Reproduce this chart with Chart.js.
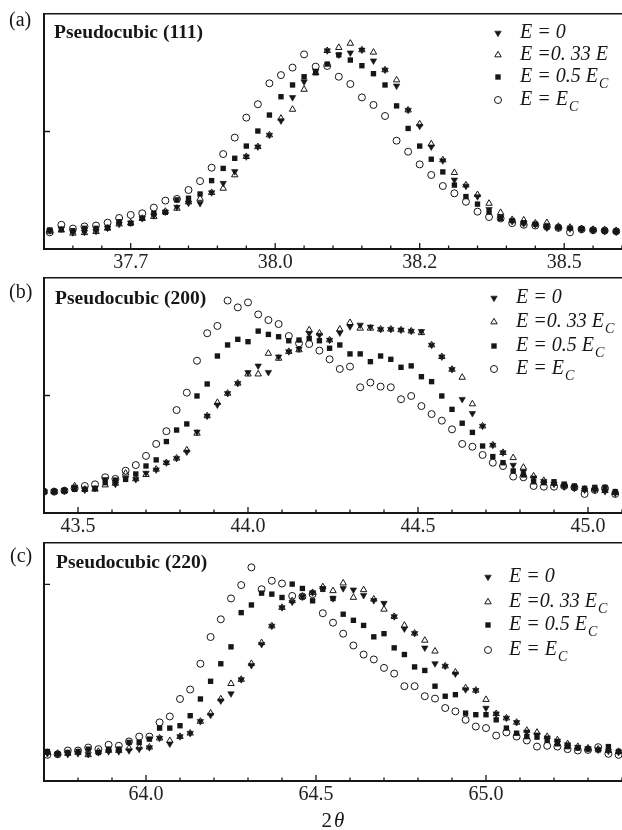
<!DOCTYPE html>
<html>
<head>
<meta charset="utf-8">
<script src="https://cdn.jsdelivr.net/npm/chart.js@4.4.1/dist/chart.umd.min.js"></script>
<style>
html, body { margin:0; padding:0; background:#fff; }
body { width:622px; height:830px; position:relative; overflow:hidden; }
canvas { position:absolute; left:0; }
</style>
</head>
<body>
<canvas id="chartA" width="622" height="278" style="top:0px"></canvas>
<canvas id="chartB" width="622" height="278" style="top:264px"></canvas>
<canvas id="chartC" width="622" height="301" style="top:529px"></canvas>
<script>
// 2theta sampling positions of each scan
const twoThetaA = [37.61,37.63,37.65,37.67,37.69,37.71,37.73,37.75,37.77,37.79,37.81,37.83,37.85,37.87,37.89,37.91,37.93,37.95,37.97,37.99,
    38.01,38.03,38.05,38.07,38.09,38.11,38.13,38.15,38.17,38.19,38.21,38.23,38.25,38.27,38.29,38.31,38.33,38.35,38.37,38.39,
    38.41,38.43,38.45,38.47,38.49,38.51,38.53,38.55,38.57,38.59];
const twoThetaB = [43.40,43.43,43.46,43.49,43.52,43.55,43.58,43.61,43.64,43.67,43.70,43.73,43.76,43.79,43.82,43.85,43.88,43.91,43.94,43.97,
    44.00,44.03,44.06,44.09,44.12,44.15,44.18,44.21,44.24,44.27,44.30,44.33,44.36,44.39,44.42,44.45,44.48,44.51,44.54,44.57,
    44.60,44.63,44.66,44.69,44.72,44.75,44.78,44.81,44.84,44.87,44.90,44.93,44.96,44.99,45.02,45.05,45.08];
const twoThetaC = [63.71,63.74,63.77,63.80,63.83,63.86,63.89,63.92,63.95,63.98,64.01,64.04,64.07,64.10,64.13,64.16,64.19,64.22,64.25,64.28,
    64.31,64.34,64.37,64.40,64.43,64.46,64.49,64.52,64.55,64.58,64.61,64.64,64.67,64.70,64.73,64.76,64.79,64.82,64.85,64.88,
    64.91,64.94,64.97,65.00,65.03,65.06,65.09,65.12,65.15,65.18,65.21,65.24,65.27,65.30,65.33,65.36,65.39];

// (a) pseudocubic (111), intensity a.u.
const e0A   = [7.8,8.6,7.0,7.2,7.6,8.9,10.6,11.1,13.0,14.2,15.8,17.8,19.6,19.4,24.0,28.0,33.0,39.3,43.5,48.5,
    54.6,64.5,71.2,75.8,84.4,82.6,83.5,84.7,80.1,76.2,69.4,59.1,52.3,43.5,37.6,29.4,26.8,22.3,16.9,13.5,
    11.8,10.8,10.4,9.0,9.0,8.6,8.3,7.9,7.5,7.3];
const e033A = [7.5,8.0,6.7,6.9,7.4,8.8,10.6,11.1,13.0,13.8,16.0,17.3,20.0,21.5,24.0,25.8,31.5,39.3,43.5,48.5,
    55.6,59.4,67.9,75.0,84.4,85.7,87.5,84.7,83.7,76.2,71.9,59.1,53.2,44.7,37.9,32.5,27.2,23.1,19.4,15.5,
    12.5,12.3,11.0,11.2,9.6,9.2,8.6,8.3,8.2,7.8];
const e05A  = [8.1,8.4,7.8,8.8,8.8,9.2,11.6,10.9,13.1,15.2,15.6,20.9,21.6,23.4,29.1,34.3,38.6,43.8,50.2,57.0,
    64.8,69.8,73.3,75.0,78.7,82.6,80.4,78.0,74.6,69.8,60.9,51.3,43.8,38.2,32.8,27.2,22.3,19.1,15.7,13.1,
    12.1,11.2,10.6,9.5,9.3,8.9,8.6,8.1,7.9,7.6];
const eCA   = [7.1,10.3,8.7,9.6,10.0,11.2,13.2,14.5,15.2,17.6,20.6,21.3,25.1,28.9,34.6,40.4,47.4,55.9,61.6,70.5,
    74.0,77.2,82.8,77.6,77.9,73.3,70.2,64.5,61.3,56.6,46.1,41.4,36.0,31.5,26.8,23.7,20.1,15.9,13.6,13.0,
    11.0,10.3,10.0,9.5,9.0,7.1,8.4,8.0,7.8,7.5];

// (b) pseudocubic (200)
const e0B   = [9.1,9.1,9.5,11.0,9.8,10.5,14.3,12.3,14.8,14.3,17.0,18.4,21.4,23.3,26.0,34.5,41.3,46.0,50.9,55.2,
    59.8,62.6,59.9,66.5,68.7,69.8,76.5,75.7,73.6,76.7,79.3,80.0,79.2,78.2,78.2,77.9,77.4,77.3,71.5,66.5,
    61.1,48.4,42.4,37.0,28.9,25.7,20.4,17.6,15.0,13.5,12.3,11.2,10.6,9.8,9.8,9.2,8.4];
const e033B = [9.1,9.1,9.5,11.5,10.1,10.1,11.9,12.6,16.9,14.5,16.3,18.6,21.4,23.3,26.8,33.9,41.3,47.0,50.9,55.2,
    59.1,59.1,67.9,65.8,68.7,69.4,77.9,76.5,73.6,78.2,81.0,78.6,78.6,78.2,78.2,77.9,77.4,76.7,71.5,66.5,
    61.1,57.7,46.4,37.0,28.9,25.7,23.5,19.4,15.7,13.8,12.6,11.5,10.9,10.1,10.1,9.5,8.7];
const e05B  = [9.1,9.1,9.5,10.1,10.1,10.5,12.9,14.0,14.3,16.6,20.0,22.6,30.4,35.3,37.9,49.8,54.9,66.8,71.5,73.9,
    72.9,77.4,76.0,75.0,73.3,73.6,74.3,73.3,70.1,71.5,67.7,67.7,64.4,66.8,65.4,62.0,62.6,58.0,55.9,49.8,
    44.1,38.2,34.3,28.5,24.0,21.4,17.9,16.2,13.3,12.9,13.3,12.3,11.5,10.5,10.9,10.9,9.1];
const eCB   = [9.1,9.1,9.5,10.5,11.5,12.2,15.2,14.5,18.0,20.4,24.3,29.4,34.8,43.8,51.2,64.8,76.5,79.6,90.4,87.5,
    89.6,84.5,82.1,80.4,75.3,72.2,71.9,69.1,65.4,61.3,62.3,53.5,55.5,53.8,53.5,48.4,49.8,45.5,42.1,39.3,
    35.6,29.4,28.2,24.7,21.4,20.0,15.5,15.2,11.5,11.2,11.2,11.5,10.9,8.1,9.8,10.5,8.1];

// (c) pseudocubic (220)
const e0C   = [14.0,13.6,13.6,14.0,13.6,14.5,15.0,15.0,15.5,16.2,17.0,21.8,18.9,22.6,24.3,30.3,33.5,40.8,44.4,51.6,
    58.8,69.5,78.8,88.2,91.0,93.8,95.8,97.9,92.8,97.9,97.2,94.4,91.8,90.4,83.6,77.4,75.1,67.7,59.7,58.4,
    54.5,46.5,46.1,37.1,34.2,32.0,29.8,25.0,23.5,22.0,20.4,18.5,17.2,16.5,15.8,15.2,14.6];
const e033C = [14.5,14.0,14.0,14.5,13.3,15.0,15.5,15.5,16.7,17.2,17.2,21.8,20.5,22.6,24.3,30.3,34.5,41.7,49.5,51.6,
    59.7,70.3,78.8,88.2,91.6,93.8,95.8,98.7,96.7,100.6,93.3,97.2,92.4,87.3,83.6,79.1,75.1,71.5,66.0,58.4,
    55.3,47.3,46.1,41.4,34.2,32.0,29.8,25.7,24.7,22.6,20.9,18.9,17.5,16.7,16.2,15.5,15.0];
const e05C  = [15.0,13.8,14.5,15.0,16.2,14.5,16.2,16.2,19.6,19.6,21.3,26.9,26.9,28.1,33.2,41.7,50.7,59.6,68.2,85.6,
    89.5,95.5,95.0,93.3,100.1,97.9,91.6,97.5,92.8,84.8,81.7,79.1,73.3,74.9,67.7,64.3,58.0,56.2,48.2,43.1,
    43.9,34.5,33.7,33.7,31.1,26.9,24.3,22.6,22.3,20.6,18.9,17.5,16.7,16.2,15.8,17.5,15.0];
const eCC   = [13.3,13.6,15.5,15.5,17.0,16.2,18.4,17.9,20.1,22.6,22.6,29.8,32.8,41.7,46.5,59.6,73.2,82.2,92.8,99.6,
    108.6,97.5,101.8,100.4,94.1,93.8,95.0,85.3,80.5,74.9,68.9,64.3,61.8,57.5,54.6,48.2,48.2,43.1,41.9,37.1,
    35.4,31.1,27.7,26.9,23.1,24.7,22.6,20.6,17.5,17.9,17.5,16.2,15.5,15.8,17.2,13.8,13.3];

// axis ticks (labels as printed on the original figure)
const ticksA = [37.75, 38.0, 38.25, 38.5];
const tickLabelsA = ['37.7', '38.0', '38.2', '38.5'];
const ticksB = [43.5, 44.0, 44.5, 45.0];
const tickLabelsB = ['43.5', '44.0', '44.5', '45.0'];
const ticksC = [64.0, 64.5, 65.0];
const tickLabelsC = ['64.0', '64.5', '65.0'];

const legendA = ['E = 0', 'E =0. 33 E', 'E = 0.5 E', 'E = E'];
const legendSubA = ['', '', 'C', 'C'];
const legendBC = ['E = 0', 'E =0. 33 E', 'E = 0.5 E', 'E = E'];
const legendSubBC = ['', 'C', 'C', 'C'];

const INK = '#161616';
const SERIF = '"Liberation Serif", "Times New Roman", serif';

function makeOverlay(p) {
    return {
        id: 'overlay',
        afterDraw(chart) {
            const ctx = chart.ctx;
            const area = chart.chartArea;
            const sx = chart.scales.x;
            const sy = chart.scales.y;
            ctx.save();
            // inward ticks
            ctx.strokeStyle = INK;
            ctx.lineWidth = 1.3;
            ctx.beginPath();
            for (let i = 0; ; i++) {
                const v = p.minorFrom + i * p.minorStep;
                if (v > sx.max + 1e-9) break;
                const px = sx.getPixelForValue(v);
                ctx.moveTo(px, area.bottom);
                ctx.lineTo(px, area.bottom - 3.5);
            }
            p.ticks.forEach(v => {
                const px = sx.getPixelForValue(v);
                ctx.moveTo(px, area.bottom);
                ctx.lineTo(px, area.bottom - 6);
            });
            const py = sy.getPixelForValue(p.yTick);
            ctx.moveTo(area.left, py);
            ctx.lineTo(area.left + 6, py);
            ctx.stroke();

            ctx.fillStyle = INK;
            ctx.textAlign = 'left';
            ctx.textBaseline = 'middle';
            ctx.font = '20px ' + SERIF;
            ctx.fillText(p.panel, p.panelX, p.panelY);
            ctx.font = 'bold 19.5px ' + SERIF;
            ctx.fillText(p.title, p.titleX, p.titleY);

            // legend
            chart.data.datasets.forEach((ds, i) => {
                const y = p.legendY[i];
                ctx.fillStyle = ds.backgroundColor;
                ctx.strokeStyle = ds.borderColor;
                ctx.lineWidth = ds.borderWidth;
                Chart.helpers.drawPoint(ctx, {
                    pointStyle: ds.pointStyle,
                    rotation: ds.pointRotation || 0,
                    radius: ds.pointRadius,
                    borderWidth: ds.borderWidth
                }, p.legendMarkX, y);
                ctx.fillStyle = INK;
                ctx.font = 'italic 20px ' + SERIF;
                ctx.fillText(ds.label, p.legendTextX, y);
                if (p.legendSub[i]) {
                    const w = ctx.measureText(ds.label).width;
                    ctx.font = 'italic 14px ' + SERIF;
                    ctx.fillText(p.legendSub[i], p.legendTextX + w + 1, y + 7);
                }
            });

            if (p.axisTitleY) {
                ctx.font = '21px ' + SERIF;
                const w2 = ctx.measureText('2').width;
                ctx.font = 'italic 21px ' + SERIF;
                const wt = ctx.measureText('θ').width;
                const cx = (area.left + area.right) / 2;
                const x0 = cx - (w2 + 2 + wt) / 2;
                ctx.font = '21px ' + SERIF;
                ctx.fillText('2', x0, p.axisTitleY);
                ctx.font = 'italic 21px ' + SERIF;
                ctx.fillText('θ', x0 + w2 + 2, p.axisTitleY);
            }
            ctx.restore();
        }
    };
}

function makePanel(canvasId, p) {
    const pts = ys => p.x.map((x, i) => ({x: x, y: ys[i]}));
    return new Chart(document.getElementById(canvasId), {
        type: 'scatter',
        plugins: [makeOverlay(p)],
        data: {
            datasets: [
                { label: p.legend[0], data: pts(p.e0), pointStyle: 'triangle', pointRotation: 180,
                  pointRadius: 3.7, backgroundColor: INK, borderColor: INK, borderWidth: 0.6 },
                { label: p.legend[1], data: pts(p.e033), pointStyle: 'triangle',
                  pointRadius: 3.7, backgroundColor: 'rgba(0,0,0,0)', borderColor: INK, borderWidth: 1 },
                { label: p.legend[2], data: pts(p.e05), pointStyle: 'rect',
                  pointRadius: 3.8, backgroundColor: INK, borderColor: INK, borderWidth: 0 },
                { label: p.legend[3], data: pts(p.eC), pointStyle: 'circle',
                  pointRadius: 3.5, backgroundColor: 'rgba(0,0,0,0)', borderColor: INK, borderWidth: 1 },
            ]
        },
        options: {
            responsive: false,
            animation: false,
            events: [],
            layout: { autoPadding: false, padding: { left: 44, top: 14, right: 0, bottom: 0 } },
            plugins: { legend: { display: false }, tooltip: { enabled: false } },
            scales: {
                x: {
                    type: 'linear', position: 'bottom', min: p.xMin, max: p.xMax,
                    grid: { display: false, drawTicks: false },
                    border: { display: true, color: INK, width: 2 },
                    ticks: {
                        font: { family: SERIF, size: 20 }, color: '#222', padding: 2,
                        autoSkip: false, maxRotation: 0,
                        callback: (value, index) => p.tickLabels[index]
                    },
                    afterBuildTicks: scale => { scale.ticks = p.ticks.map(v => ({ value: v })); },
                    afterFit: scale => { scale.height = p.axisHeight; }
                },
                xTop: {
                    type: 'linear', axis: 'x', position: 'top', min: p.xMin, max: p.xMax,
                    grid: { display: false, drawTicks: false },
                    border: { display: true, color: INK, width: 1.5 },
                    ticks: { display: false },
                    afterFit: scale => { scale.height = 0; }
                },
                y: {
                    type: 'linear', min: 0, max: p.yMax,
                    grid: { display: false, drawTicks: false },
                    border: { display: true, color: INK, width: 2 },
                    ticks: { display: false },
                    afterFit: scale => { scale.width = 0; }
                }
            }
        }
    });
}

makePanel('chartA', {
    x: twoThetaA, e0: e0A, e033: e033A, e05: e05A, eC: eCA,
    xMin: 37.6, xMax: 38.6, yMax: 100, yTick: 50,
    ticks: ticksA, tickLabels: tickLabelsA, minorFrom: 37.6, minorStep: 0.05, axisHeight: 29,
    panel: '(a)', panelX: 9, panelY: 20.5,
    title: 'Pseudocubic (111)', titleX: 54, titleY: 33,
    legend: legendA, legendSub: legendSubA, legendY: [33, 55, 77, 100], legendMarkX: 498, legendTextX: 520
});

makePanel('chartB', {
    x: twoThetaB, e0: e0B, e033: e033B, e05: e05B, eC: eCB,
    xMin: 43.4, xMax: 45.1, yMax: 100, yTick: 50,
    ticks: ticksB, tickLabels: tickLabelsB, minorFrom: 43.4, minorStep: 0.1, axisHeight: 29,
    panel: '(b)', panelX: 9, panelY: 28.5,
    title: 'Pseudocubic (200)', titleX: 55, titleY: 35,
    legend: legendBC, legendSub: legendSubBC, legendY: [34, 58, 82, 105], legendMarkX: 494, legendTextX: 516
});

makePanel('chartC', {
    x: twoThetaC, e0: e0C, e033: e033C, e05: e05C, eC: eCC,
    xMin: 63.7, xMax: 65.4, yMax: 121, yTick: 100,
    ticks: ticksC, tickLabels: tickLabelsC, minorFrom: 63.7, minorStep: 0.1, axisHeight: 49,
    panel: '(c)', panelX: 10, panelY: 27.7,
    title: 'Pseudocubic (220)', titleX: 56, titleY: 34,
    legend: legendBC, legendSub: legendSubBC, legendY: [48, 73, 96, 121], legendMarkX: 488, legendTextX: 509,
    axisTitleY: 292
});
</script>
</body>
</html>
